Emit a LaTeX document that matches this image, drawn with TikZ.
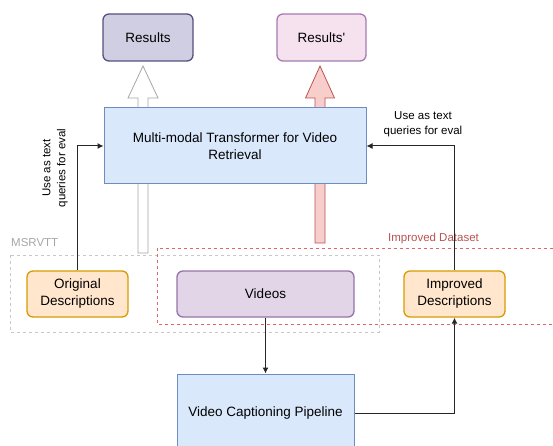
\documentclass[tikz,border=0pt]{standalone}
\usepackage{fontspec}
\setmainfont{Liberation Sans}
\usepackage{xcolor}
\usepackage{tikz}
\usetikzlibrary{backgrounds}
\usetikzlibrary{arrows.meta}
\usetikzlibrary{positioning}
\definecolor{blueFill}{HTML}{DAE8FC}
\definecolor{blueLine}{HTML}{6C8EBF}
\definecolor{orangeFill}{HTML}{FFE6CC}
\definecolor{orangeLine}{HTML}{D79B00}
\definecolor{violetFill}{HTML}{E1D5E7}
\definecolor{violetLine}{HTML}{9673A6}
\definecolor{resFill}{HTML}{D0CEE2}
\definecolor{resLine}{HTML}{56517E}
\definecolor{pinkFill}{HTML}{F6E2EF}
\definecolor{pinkLine}{HTML}{A67AB2}
\definecolor{redFill}{HTML}{F8CECC}
\definecolor{redLine}{HTML}{B85450}
\definecolor{setRed}{HTML}{E06666}
\definecolor{setGray}{HTML}{C8C8C8}
\tikzset{base/.style={draw, line width=1pt, align=center, inner sep=0pt, font=\fontsize{13.5}{17}\selectfont}}
\tikzset{blk/.style={base, fill=blueFill, draw=blueLine}}
\tikzset{rnd/.style={base, rounded corners=6pt, line width=1.3pt}}
\tikzset{link/.style={draw=black!85, line width=1pt, -{Latex[length=6pt,width=6pt]}}}
\tikzset{note/.style={font=\fontsize{11.5}{15}\selectfont, align=center, inner sep=0pt}}
\tikzset{setbox/.style={dashed, dash pattern=on 3pt off 3pt, line width=0.8pt}}

\begin{document}
\begin{tikzpicture}[x=1pt,y=-1pt]
\useasboundingbox (0,0) rectangle (553,446);
\clip (0,0) rectangle (553,446);
% outputs
\node[rnd, fill=resFill, draw=resLine, minimum width=90pt, minimum height=47pt] (res) at (148,37.5) {Results};
\node[rnd, fill=pinkFill, draw=pinkLine, minimum width=89pt, minimum height=47pt] (resp) at (321.5,37.5) {Results\textquotesingle};
% model
\node[blk, minimum width=262pt, minimum height=76pt] (mmt) at (235,146) {Multi-modal Transformer for Video\\Retrieval};
% data
\node[rnd, fill=orangeFill, draw=orangeLine, minimum width=101pt, minimum height=46pt] (orig) at (77.5,294) {Original\\Descriptions};
\node[rnd, fill=violetFill, draw=violetLine, minimum width=177pt, minimum height=46pt] (vid) at (265.5,294) {Videos};
\node[rnd, fill=orangeFill, draw=orangeLine, minimum width=101pt, minimum height=46pt] (imp) at (454.5,294) {Improved\\Descriptions};
\node[blk, minimum width=177pt, minimum height=78pt] (vcp) at (265.5,413) {Video Captioning Pipeline};
% dataset frames
\begin{scope}[on background layer]
\draw[setbox, draw=setGray] (10,255) rectangle (379,332);
\draw[setbox, draw=setRed] (157,248) rectangle (570,324);
\draw[draw=black!35, fill=white, line width=0.8pt] (138,253) -- (138,98) -- (128,98) -- (143,66) -- (158,98) -- (148,98) -- (148,253) -- cycle;
\draw[draw=redLine, fill=redFill, line width=0.8pt] (315,243) -- (315,98) -- (305.5,98) -- (320,66) -- (334.5,98) -- (325,98) -- (325,243) -- cycle;
\end{scope}
\node[anchor=west, inner sep=0pt, text=black!35, font=\fontsize{11.5}{14}\selectfont] (msr) at (11,243) {MSRVTT};
\node[inner sep=0pt, text=redLine, font=\fontsize{11.5}{14}\selectfont] (impset) at (433.5,239) {Improved Dataset};
% connectors
\draw[link] (orig.north) |- (mmt.west);
\draw[link] (imp.north) |- (mmt.east);
\draw[link] (vid) -- (vcp);
\draw[link] (vcp.east) -| (imp.south);
\node[note, rotate=90] (lnote) at (55,168) {Use as text\\queries for eval};
\node[note] (rnote) at (423,124) {Use as text\\queries for eval};
\end{tikzpicture}
\end{document}
